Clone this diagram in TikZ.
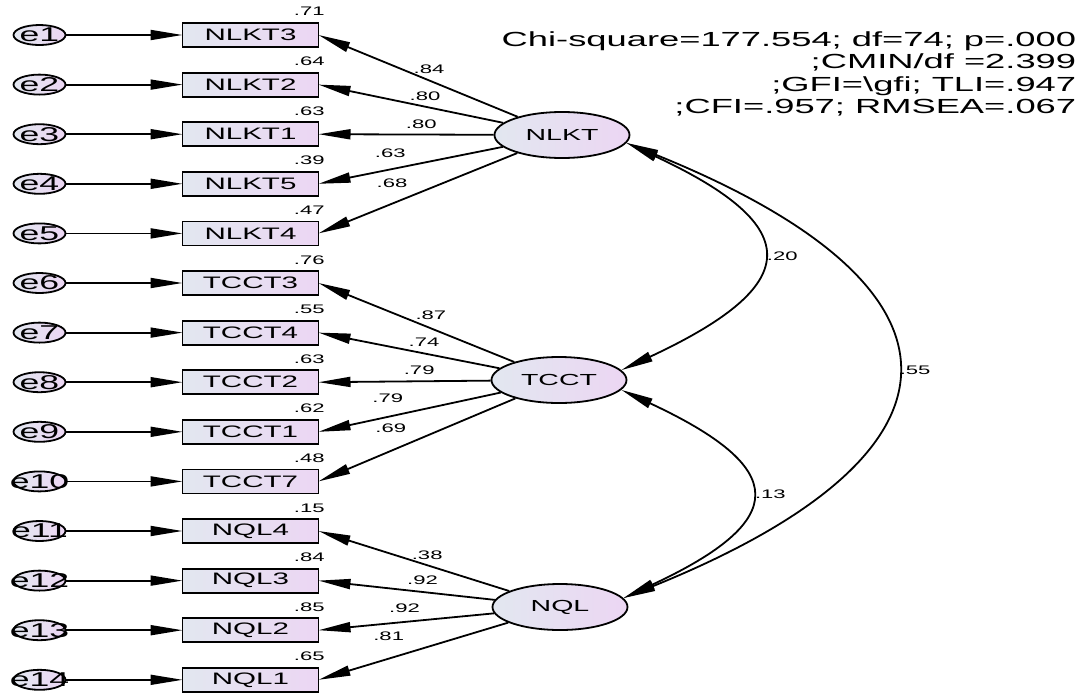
\documentclass[tikz,border=0pt]{standalone}
\usepackage{fontspec}
\setmainfont[FakeStretch=1.78]{Liberation Sans}
\usepackage{tikz}
\usetikzlibrary{matrix,shapes,arrows.meta}

\definecolor{amosleft}{RGB}{226,231,240}
\definecolor{amosright}{RGB}{236,214,243}

\begin{document}
\begin{tikzpicture}[x=0.5pt,y=0.5pt,line width=0.9pt,
    >={Triangle[length=16pt,width=5pt]},
    amosfill/.style={left color=amosleft,right color=amosright},
    latent/.style={ellipse,draw,amosfill,minimum width=67.5pt,minimum height=23pt,
        inner sep=0pt,font=\fontsize{8}{9}\selectfont},
    coef/.style={font=\fontsize{6.2}{7}\selectfont,inner sep=1pt},
    stats/.style={font=\fontsize{10.2}{11.15}\selectfont,align=right,inner sep=0pt}
]
\useasboundingbox (0,0) rectangle (1085,-696);
    \matrix(obs)[matrix of nodes,anchor=north west,inner sep=0pt,outer sep=0pt,
        row sep=11.9pt,column sep=57.6pt,
        nodes={draw,amosfill,anchor=center,font=\fontsize{8.3}{9}\selectfont},
        column 1/.style={nodes={ellipse,minimum width=26pt,minimum height=10pt,
            inner xsep=-7pt,inner ysep=-1.5pt,font=\fontsize{10}{11}\selectfont}},
        column 2/.style={nodes={rectangle,minimum width=68pt,minimum height=12pt,inner sep=0pt}}
    ] at (12.6,-22.1) {
 e1   &  NLKT3  \\
 e2   &  NLKT2  \\
 e3   &  NLKT1  \\
 e4   &  NLKT5  \\
 e5   &  NLKT4  \\
 e6   &  TCCT3  \\
 e7   &  TCCT4  \\
 e8   &  TCCT2  \\
 e9   &  TCCT1  \\
 e10  &  TCCT7  \\
 e11  &  NQL4   \\
 e12  &  NQL3   \\
 e13  &  NQL2   \\
 e14  &  NQL1   \\
    };
    \foreach \r in {1,...,14}
        \draw[->](obs-\r-1)--(obs-\r-2);
    \foreach \r/\v in {1/.71,2/.64,3/.63,4/.39,5/.47,6/.76,7/.55,8/.63,9/.62,10/.48,
                       11/.15,12/.84,13/.85,14/.65}
        \node[coef,anchor=base east] at ([xshift=4.5pt,yshift=3.5pt]obs-\r-2.north east) {\v};

    \node[latent](NLKT) at (562,-135) {NLKT};
    \node[latent](TCCT) at (559,-380) {TCCT};
    \node[latent](NQL) at (560,-607) {NQL};

    \foreach \r/\v/\p/\s in {1/.84/.445/2,2/.80/.423/1.5,3/.80/.413/1.7,4/.63/.61/4.5,5/.68/.63/6.5}
        \draw[->](NLKT)--(obs-\r-2.east) node[coef,pos=\p,above=\s pt]{\v};
    \foreach \r/\v/\p/\s in {6/.87/.426/3,7/.74/.417/2.2,8/.79/.415/1.7,9/.79/.62/5.5,10/.69/.633/7.5}
        \draw[->](TCCT)--(obs-\r-2.east) node[coef,pos=\p,above=\s pt]{\v};
    \foreach \r/\v/\p/\s in {11/.38/.43/1.2,12/.92/.41/2,13/.92/.51/3,14/.81/.63/7.5}
        \draw[->](NQL)--(obs-\r-2.east) node[coef,pos=\p,above=\s pt]{\v};

    \draw[<->](NLKT.-7) to[out=-25,in=25,looseness=2.25] node[coef,right=2pt]{.20} (TCCT.9);
    \draw[<->](NLKT.-7) to[out=-22,in=22,looseness=2.17] node[coef,right=1.5pt]{.55} (NQL.8);
    \draw[<->](TCCT.-9) to[out=-25,in=25,looseness=2.27] node[coef,right=2pt]{.13} (NQL.8);

    \node[stats,anchor=north east](fit) at (1077,-31) {Chi-square=177.554; df=74; p=.000\\
        ;CMIN/df =2.399\\;GFI=\textbackslash gfi; TLI=.947\\;CFI=.957; RMSEA=.067};
\end{tikzpicture}
\end{document}
